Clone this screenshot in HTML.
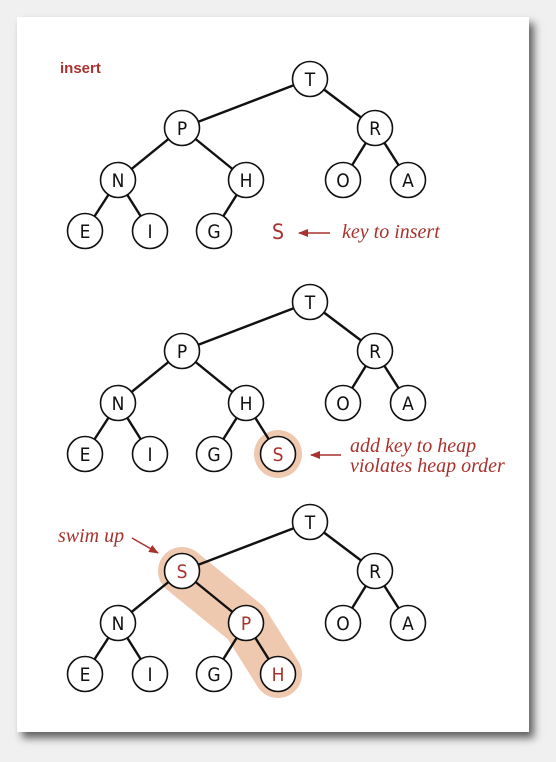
<!DOCTYPE html>
<html><head><style>
html,body{margin:0;padding:0;background:#f0f0f0;width:556px;height:762px;overflow:hidden}
.card{position:absolute;left:17px;top:17px;width:512px;height:715px;background:#fff;box-shadow:5px 6px 8px rgba(0,0,0,0.6)}
svg{position:absolute;left:0;top:0}
.n{font-family:"DejaVu Sans Condensed","Liberation Sans Narrow","DejaVu Sans",sans-serif;font-size:19px;text-anchor:middle;fill:#111}
.r{fill:#a8322d}
.it{font-family:"Liberation Serif",serif;font-style:italic;font-size:20px;fill:#a8322d}
</style></head><body>
<div class="card"></div>
<svg width="556" height="762" viewBox="0 0 556 762">
<defs>
<marker id="ah" markerWidth="10" markerHeight="8" refX="9" refY="4" orient="auto" markerUnits="userSpaceOnUse"><path d="M0,0 L10,4 L0,8 Z" fill="#a8322d"/></marker>
<g id="edges" stroke="#111" stroke-width="2.4" fill="none">
<line x1="310" y1="79" x2="182" y2="128"/><line x1="310" y1="79" x2="375" y2="128"/>
<line x1="182" y1="128" x2="118" y2="180"/><line x1="182" y1="128" x2="246" y2="180"/>
<line x1="375" y1="128" x2="343" y2="180"/><line x1="375" y1="128" x2="408" y2="180"/>
<line x1="118" y1="180" x2="85" y2="231"/><line x1="118" y1="180" x2="150" y2="231"/>
<line x1="246" y1="180" x2="214" y2="231"/>
</g>
<g id="circ" stroke="#111" stroke-width="1.6" fill="#fff">
<circle cx="310" cy="79" r="17.5"/><circle cx="182" cy="128" r="17.5"/><circle cx="375" cy="128" r="17.5"/>
<circle cx="118" cy="180" r="17.5"/><circle cx="246" cy="180" r="17.5"/><circle cx="343" cy="180" r="17.5"/><circle cx="408" cy="180" r="17.5"/>
<circle cx="85" cy="231" r="17.5"/><circle cx="150" cy="231" r="17.5"/><circle cx="214" cy="231" r="17.5"/>
</g>
</defs>
<text x="60" y="73" style="font-family:'Liberation Sans',sans-serif;font-weight:bold;font-size:15px" class="r">insert</text>

<!-- tree 1 -->
<use href="#edges"/>
<use href="#circ"/>
<text x="310" y="86" class="n">T</text><text x="182" y="135" class="n">P</text><text x="375" y="135" class="n">R</text>
<text x="118" y="187" class="n">N</text><text x="246" y="187" class="n">H</text><text x="343" y="187" class="n">O</text><text x="408" y="187" class="n">A</text>
<text x="85" y="238" class="n">E</text><text x="150" y="238" class="n">I</text><text x="214" y="238" class="n">G</text>
<text x="278" y="239" class="n r" style="font-size:21px">S</text>
<line x1="330" y1="233" x2="299" y2="233" stroke="#a8322d" stroke-width="1.5" marker-end="url(#ah)"/>
<text x="342" y="238" class="it">key to insert</text>

<!-- tree 2 -->
<g transform="translate(0,223)">
<circle cx="278" cy="231" r="24" fill="#efc8b0"/>
<use href="#edges"/>
<line x1="246" y1="180" x2="278" y2="231" stroke="#111" stroke-width="2.4"/>
<use href="#circ"/>
<circle cx="278" cy="231" r="17.5" stroke="#111" stroke-width="1.6" fill="#fff"/>
<text x="310" y="86" class="n">T</text><text x="182" y="135" class="n">P</text><text x="375" y="135" class="n">R</text>
<text x="118" y="187" class="n">N</text><text x="246" y="187" class="n">H</text><text x="343" y="187" class="n">O</text><text x="408" y="187" class="n">A</text>
<text x="85" y="238" class="n">E</text><text x="150" y="238" class="n">I</text><text x="214" y="238" class="n">G</text>
<text x="278" y="238" class="n r">S</text>
<line x1="341" y1="232" x2="311" y2="232" stroke="#a8322d" stroke-width="1.5" marker-end="url(#ah)"/>
<text x="350" y="229" class="it">add key to heap</text>
<text x="350" y="249" class="it">violates heap order</text>
</g>

<!-- tree 3 -->
<g transform="translate(0,443)">
<path d="M182,128 L246,180 L278,231" stroke="#efc8b0" stroke-width="48" stroke-linecap="round" stroke-linejoin="round" fill="none"/>
<use href="#edges"/>
<line x1="246" y1="180" x2="278" y2="231" stroke="#111" stroke-width="2.4"/>
<use href="#circ"/>
<circle cx="278" cy="231" r="17.5" stroke="#111" stroke-width="1.6" fill="#fff"/>
<text x="310" y="86" class="n">T</text><text x="182" y="135" class="n r">S</text><text x="375" y="135" class="n">R</text>
<text x="118" y="187" class="n">N</text><text x="246" y="187" class="n r">P</text><text x="343" y="187" class="n">O</text><text x="408" y="187" class="n">A</text>
<text x="85" y="238" class="n">E</text><text x="150" y="238" class="n">I</text><text x="214" y="238" class="n">G</text>
<text x="278" y="238" class="n r">H</text>
<line x1="132" y1="95" x2="158" y2="110" stroke="#a8322d" stroke-width="1.5" marker-end="url(#ah)"/>
<text x="58" y="99" class="it">swim up</text>
</g>
</svg>
</body></html>
